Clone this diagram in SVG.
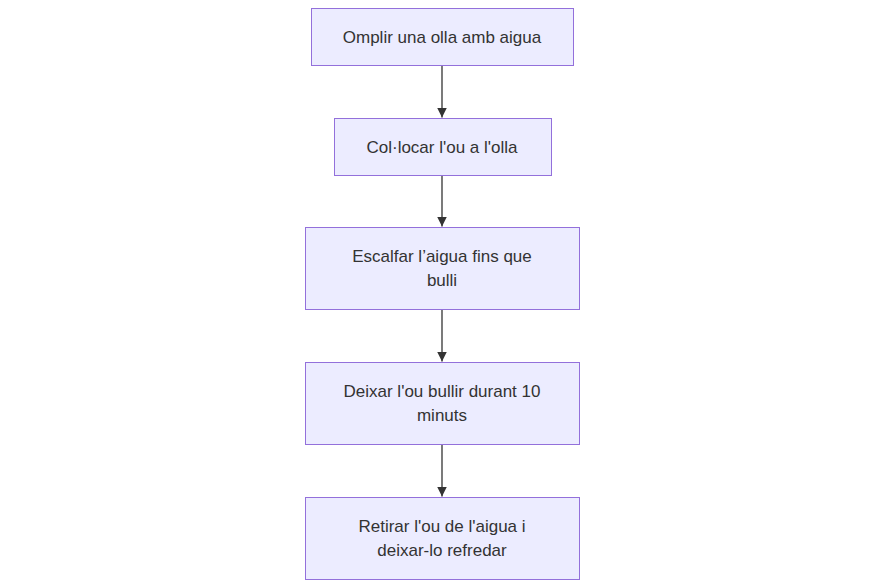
<svg xmlns="http://www.w3.org/2000/svg" width="885" height="588" viewBox="0 0 885 588">
<style>
.node rect{fill:#ECECFF;stroke:#9370DB;stroke-width:1}
.node text{font-family:"Liberation Sans",Arial,sans-serif;font-size:17px;fill:#333333;text-anchor:middle}
.edge{stroke:#333333;stroke-width:1.3;fill:none}
</style>
<defs>
<marker id="arrow" markerUnits="userSpaceOnUse" markerWidth="10" markerHeight="10" viewBox="0 0 10 10" refX="10" refY="5" orient="auto">
<path d="M0,0 L10,5 L0,10 z" fill="#333333"/>
</marker>
</defs>
<rect width="885" height="588" fill="#ffffff"/>
<g id="connectors">
<line class="edge" x1="442" y1="65.5" x2="442" y2="117.5" marker-end="url(#arrow)"/>
<line class="edge" x1="442" y1="175.5" x2="442" y2="226.5" marker-end="url(#arrow)"/>
<line class="edge" x1="442" y1="309.5" x2="442" y2="361.5" marker-end="url(#arrow)"/>
<line class="edge" x1="442" y1="444.5" x2="442" y2="496.5" marker-end="url(#arrow)"/>
</g>
<g id="n1" class="node">
<rect x="311.5" y="8.5" width="262" height="57"/>
<text x="442" y="42.5">Omplir una olla amb aigua</text>
</g>
<g id="n2" class="node">
<rect x="334.5" y="118.5" width="217" height="57"/>
<text x="442" y="152.5">Col·locar l'ou a l'olla</text>
</g>
<g id="n3" class="node">
<rect x="305.5" y="227.5" width="274" height="82"/>
<text x="442" y="262">Escalfar l’aigua fins que</text>
<text x="442" y="286">bulli</text>
</g>
<g id="n4" class="node">
<rect x="305.5" y="362.5" width="274" height="82"/>
<text x="442" y="397">Deixar l'ou bullir durant 10</text>
<text x="442" y="421">minuts</text>
</g>
<g id="n5" class="node">
<rect x="305.5" y="497.5" width="274" height="82"/>
<text x="442" y="532">Retirar l'ou de l'aigua i</text>
<text x="442" y="556">deixar-lo refredar</text>
</g>
</svg>
